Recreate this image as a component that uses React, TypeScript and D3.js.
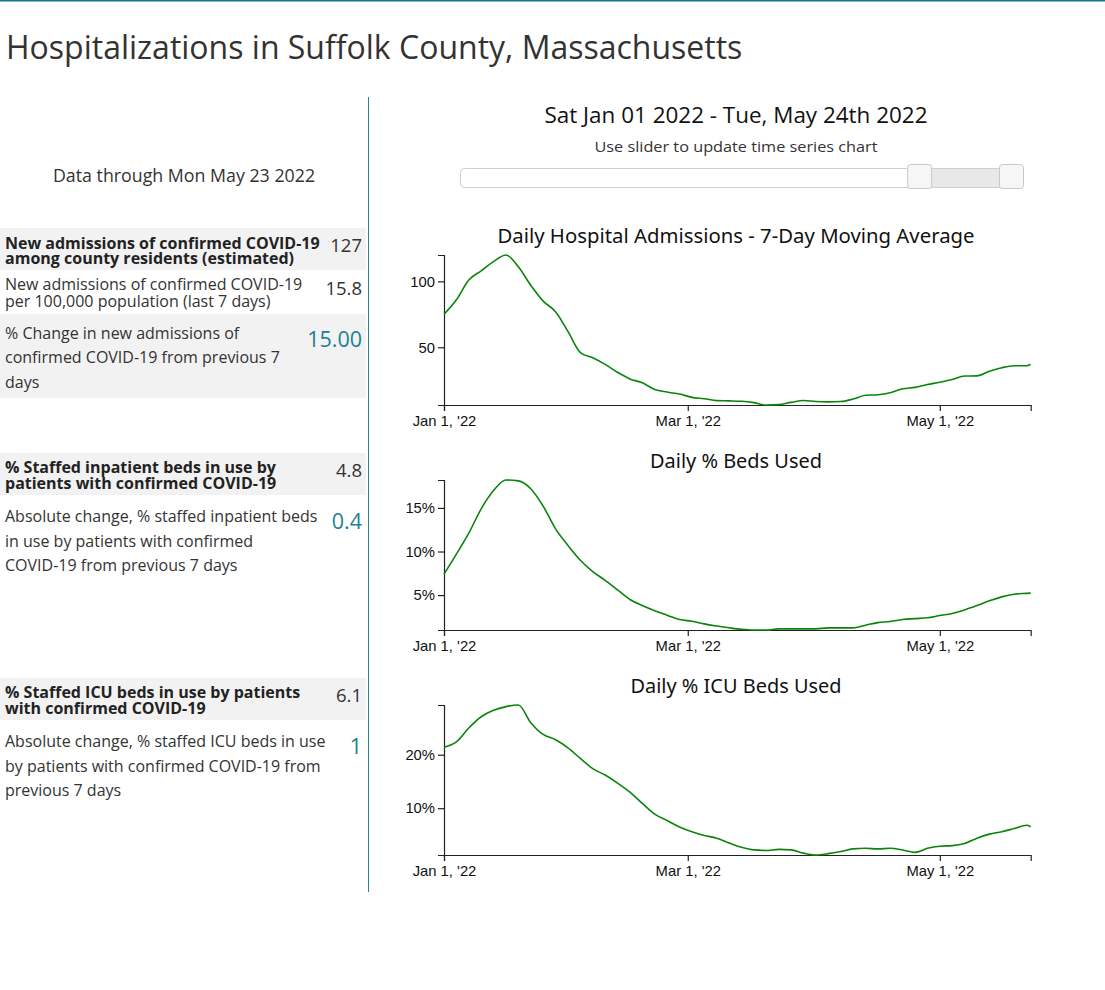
import { useEffect, useRef } from 'react';
import * as d3 from 'd3';

// sampled every 3 days, Jan 1 - May 23 2022
const sampleDates = [
  '2022-01-01', '2022-01-04', '2022-01-07', '2022-01-10', '2022-01-13', '2022-01-16', '2022-01-19',
  '2022-01-22', '2022-01-25', '2022-01-28', '2022-01-31', '2022-02-03', '2022-02-06', '2022-02-09',
  '2022-02-12', '2022-02-15', '2022-02-18', '2022-02-21', '2022-02-24', '2022-02-27', '2022-03-02',
  '2022-03-05', '2022-03-08', '2022-03-11', '2022-03-14', '2022-03-17', '2022-03-20', '2022-03-23',
  '2022-03-26', '2022-03-29', '2022-04-01', '2022-04-04', '2022-04-07', '2022-04-10', '2022-04-13',
  '2022-04-16', '2022-04-19', '2022-04-22', '2022-04-25', '2022-04-28', '2022-05-01', '2022-05-04',
  '2022-05-07', '2022-05-10', '2022-05-13', '2022-05-16', '2022-05-19', '2022-05-22', '2022-05-23',
];

const admissions = [
  75, 86, 101, 108, 115, 120, 111, 97, 85, 77, 62, 46, 42, 37, 31, 26, 23, 18, 16, 14.5, 12, 11, 9.5,
  9.3, 9, 8, 6.2, 6.5, 8.2, 9.6, 8.8, 8.6, 8.8, 10.7, 13.6, 14, 15.5, 18.5, 19.6, 21.7, 23.5, 25.6,
  28.2, 28.3, 31.8, 34.5, 36, 36, 36.9,
];

const bedsPct = [
  7.4, 9.7, 12.1, 14.9, 17.0, 18.2, 18.1, 17.2, 15.2, 12.6, 10.7, 9.0, 7.7, 6.7, 5.6, 4.5, 3.8, 3.2,
  2.7, 2.2, 2.0, 1.7, 1.45, 1.25, 1.08, 1.0, 1.0, 1.13, 1.13, 1.13, 1.13, 1.24, 1.24, 1.24, 1.55,
  1.85, 1.97, 2.2, 2.3, 2.4, 2.66, 2.9, 3.3, 3.8, 4.35, 4.8, 5.1, 5.2, 5.23,
];

const icuPct = [
  21.4, 22.4, 25.0, 27.1, 28.3, 29.0, 29.3, 26.0, 23.8, 22.8, 21.3, 19.3, 17.4, 16.2, 14.7, 13.0,
  10.9, 8.9, 7.7, 6.5, 5.6, 4.9, 4.4, 3.5, 2.7, 2.2, 2.1, 2.3, 2.2, 1.6, 1.25, 1.5, 1.9, 2.4, 2.5,
  2.4, 2.5, 2.2, 1.75, 2.5, 2.9, 3.0, 3.4, 4.4, 5.15, 5.6, 6.2, 6.8, 6.55,
];

const xTickDates = ['2022-01-01', '2022-03-01', '2022-05-01'];
const admissionsTicks = [50, 100];
const bedsTicks = [5, 10, 15];
const icuTicks = [10, 20];

const chartTitles = [
  'Daily Hospital Admissions - 7-Day Moving Average',
  'Daily % Beds Used',
  'Daily % ICU Beds Used',
];

const sliderExtent = ['2020-02-05', '2022-05-24'];
const selectedRange = ['2022-01-01', '2022-05-24'];

const pageTitle = 'Hospitalizations in Suffolk County, Massachusetts';
const dataThrough = 'Data through Mon May 23 2022';
const rangeHeading = 'Sat Jan 01 2022 - Tue, May 24th 2022';
const rangeHint = 'Use slider to update time series chart';

const metricLabels = [
  ['New admissions of confirmed COVID-19', 'among county residents (estimated)'],
  ['New admissions of confirmed COVID-19', 'per 100,000 population (last 7 days)'],
  ['% Change in new admissions of', 'confirmed COVID-19 from previous 7', 'days'],
  ['% Staffed inpatient beds in use by', 'patients with confirmed COVID-19'],
  ['Absolute change, % staffed inpatient beds', 'in use by patients with confirmed', 'COVID-19 from previous 7 days'],
  ['% Staffed ICU beds in use by patients', 'with confirmed COVID-19'],
  ['Absolute change, % staffed ICU beds in use', 'by patients with confirmed COVID-19 from', 'previous 7 days'],
];
const metricValues = ['127', '15.8', '15.00', '4.8', '0.4', '6.1', '1'];

const TEAL = '#1b8192';
const W = 1105;
const H = 990;

const App = () => {
  const ref = useRef<SVGSVGElement | null>(null);

  useEffect(() => {
    if (!ref.current) return;
    const svg = d3.select(ref.current);
    svg.selectAll('*').remove();
    const parse = d3.timeParse('%Y-%m-%d');
    const dates = sampleDates.map((d) => parse(d) as Date);

    svg.append('line').attr('x1', 0).attr('x2', W).attr('y1', 0.75).attr('y2', 0.75)
      .attr('stroke', '#0e7c8a').attr('stroke-width', 1.5);

    svg.append('text').attr('x', 6).attr('y', 59).attr('font-family', 'Open Sans')
      .attr('font-size', 32).attr('fill', '#333').text(pageTitle);

    // divider
    svg.append('line').attr('x1', 368.5).attr('x2', 368.5).attr('y1', 97).attr('y2', 892)
      .attr('stroke', '#2f7f8f').attr('stroke-width', 1);

    // left panel
    const left = svg.append('g').attr('font-family', 'Open Sans');
    left.append('text').attr('x', 184).attr('y', 182).attr('text-anchor', 'middle')
      .attr('font-size', 17.8).attr('fill', '#333').text(dataThrough);

    const rows = [
      { top: 228, h: 42, gray: true, bold: true, base: 248.5, step: 15.5, vBase: 252, vSize: 18.5, teal: false },
      { top: 270, h: 44, gray: false, bold: false, base: 290, step: 16.5, vBase: 295, vSize: 18.5, teal: false },
      { top: 314, h: 84, gray: true, bold: false, base: 338.5, step: 24.5, vBase: 347, vSize: 21.5, teal: true },
      { top: 453, h: 42, gray: true, bold: true, base: 473, step: 16, vBase: 477, vSize: 18.5, teal: false },
      { top: 495, h: 84, gray: false, bold: false, base: 522, step: 24.5, vBase: 528.5, vSize: 21.5, teal: true },
      { top: 678, h: 42, gray: true, bold: true, base: 698, step: 16, vBase: 702, vSize: 18.5, teal: false },
      { top: 720, h: 84, gray: false, bold: false, base: 747, step: 24.5, vBase: 753.5, vSize: 21.5, teal: true },
    ];
    rows.forEach((r, i) => {
      if (r.gray) {
        left.append('rect').attr('x', 0).attr('y', r.top).attr('width', 366).attr('height', r.h)
          .attr('fill', '#f2f2f2');
      }
      const t = left.append('text').attr('font-size', 16)
        .attr('font-weight', r.bold ? 700 : 400).attr('fill', r.bold ? '#222' : '#333');
      metricLabels[i].forEach((line, j) => {
        t.append('tspan').attr('x', 5).attr('y', r.base + j * r.step).text(line);
      });
      left.append('text').attr('x', 362).attr('y', r.vBase).attr('text-anchor', 'end')
        .attr('font-size', r.vSize).attr('fill', r.teal ? TEAL : '#333').text(metricValues[i]);
    });

    // heading and slider
    svg.append('text').attr('x', 736).attr('y', 123).attr('text-anchor', 'middle')
      .attr('font-family', 'Open Sans').attr('font-size', 22).attr('fill', '#111')
      .attr('textLength', 383).attr('lengthAdjust', 'spacingAndGlyphs').text(rangeHeading);
    svg.append('text').attr('x', 736).attr('y', 152).attr('text-anchor', 'middle')
      .attr('font-family', 'Open Sans').attr('font-size', 15).attr('fill', '#333')
      .attr('textLength', 283).attr('lengthAdjust', 'spacingAndGlyphs').text(rangeHint);

    const handleW = 25;
    const sx = d3.scaleTime()
      .domain(sliderExtent.map((d) => parse(d) as Date))
      .range([460, 1024 - handleW]);
    const sel = selectedRange.map((d) => sx(parse(d) as Date));
    const slider = svg.append('g');
    slider.append('rect').attr('x', 460.5).attr('y', 168.5).attr('width', 563).attr('height', 19)
      .attr('rx', 4).attr('fill', '#fff').attr('stroke', '#d0d0d0');
    slider.append('rect').attr('x', sel[0] + handleW / 2).attr('y', 169)
      .attr('width', sel[1] - sel[0]).attr('height', 18).attr('fill', '#e8e8e8');
    sel.forEach((hx) => {
      slider.append('rect').attr('x', hx + 0.5).attr('y', 164.5).attr('width', handleW - 1)
        .attr('height', handleW - 1).attr('rx', 3).attr('fill', '#f6f6f6').attr('stroke', '#c8c8c8');
    });

    // charts
    const x = d3.scaleTime()
      .domain([dates[0], dates[dates.length - 1]])
      .range([444, 1030.7]);
    const panels = [
      { values: admissions, ticks: admissionsTicks, fmt: (d: number) => String(d), top: 255, titleY: 243, titleW: 477 },
      { values: bedsPct, ticks: bedsTicks, fmt: (d: number) => `${d}%`, top: 480, titleY: 468, titleW: 172 },
      { values: icuPct, ticks: icuTicks, fmt: (d: number) => `${d}%`, top: 705, titleY: 693, titleW: 211 },
    ];
    const plotH = 150;

    panels.forEach((p, i) => {
      const g = svg.append('g');
      g.append('text').attr('x', 736).attr('y', p.titleY).attr('text-anchor', 'middle')
        .attr('font-family', 'Noto Sans').attr('font-size', 20).attr('fill', '#111')
        .attr('textLength', p.titleW).attr('lengthAdjust', 'spacingAndGlyphs').text(chartTitles[i]);

      const y = d3.scaleLinear()
        .domain(d3.extent(p.values) as [number, number])
        .range([p.top + plotH, p.top]);

      const xAxis = g.append('g').attr('transform', `translate(0,${p.top + plotH})`)
        .call(d3.axisBottom(x)
          .tickValues(xTickDates.map((d) => parse(d) as Date))
          .tickPadding(4.5)
          .tickFormat((d) => d3.timeFormat("%b %-d, '%y")(d as Date)));
      const yAxis = g.append('g').attr('transform', 'translate(444,0)')
        .call(d3.axisLeft(y).tickValues(p.ticks).tickFormat((d) => p.fmt(d as number)));
      [xAxis, yAxis].forEach((a) => {
        a.attr('font-family', 'Liberation Sans, Arial, sans-serif').attr('font-size', 14.8);
        a.selectAll('text').attr('fill', '#111');
        a.selectAll('line, path').attr('stroke', '#222').attr('stroke-width', 1.2);
      });

      const line = d3.line<number>()
        .x((_, k) => x(dates[k]))
        .y((v) => y(v))
        .curve(d3.curveMonotoneX);
      g.append('path').datum(p.values).attr('d', line).attr('fill', 'none')
        .attr('stroke', '#0a850a').attr('stroke-width', 1.6);
    });
  }, []);

  return (
    <svg
      ref={ref}
      width={W}
      height={H}
      style={{ position: 'absolute', left: 0, top: 0, background: '#fff' }}
      role="img"
      aria-label="Hospitalizations in Suffolk County"
    />
  );
};

export default App;
